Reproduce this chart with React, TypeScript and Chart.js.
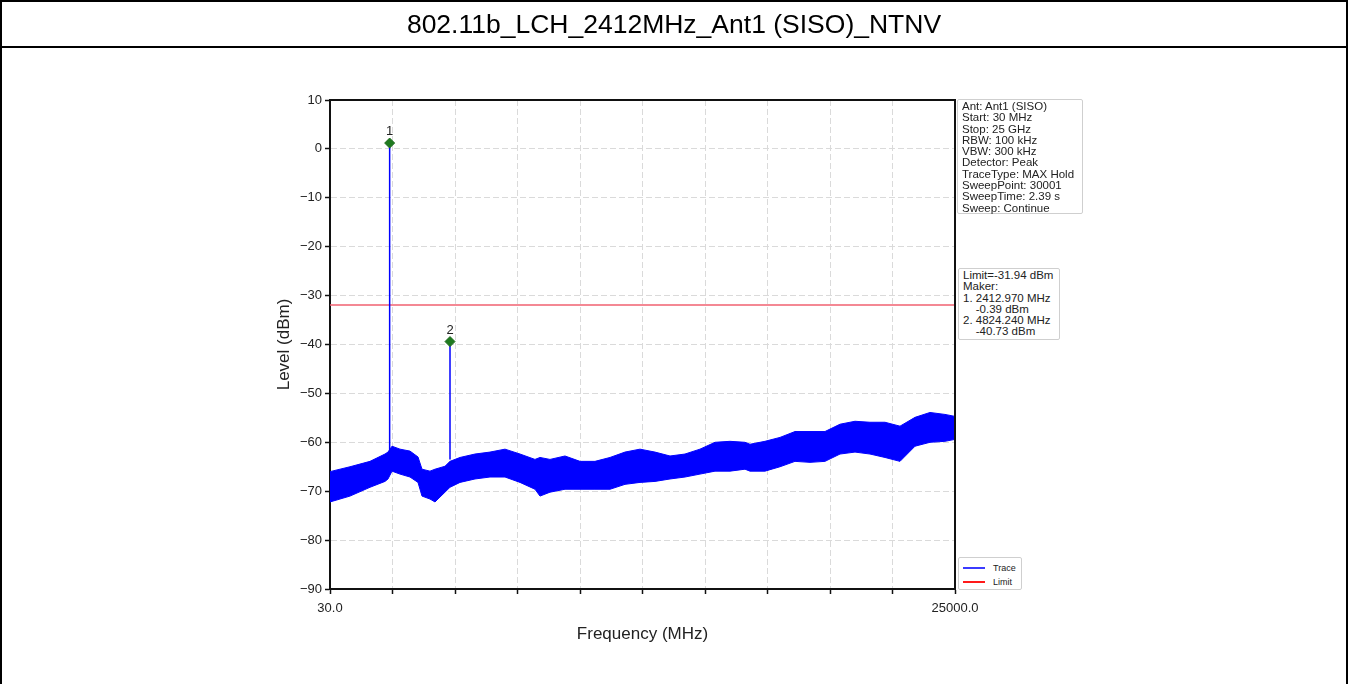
import React, { useEffect, useRef } from 'react';
import { Chart, registerables } from 'chart.js';

Chart.register(...registerables);

const TITLE = '802.11b_LCH_2412MHz_Ant1 (SISO)_NTNV';

// Noise band of the trace
const freqMHz = [30, 829, 1628, 2227, 2347, 2507, 2827, 3226, 3546, 3706, 4025, 4225, 4624, 4824, 5224, 5823, 6422, 7022, 7621, 8220, 8420, 8819, 9419, 10018, 10617, 11217, 11816, 12415, 13014, 13614, 14213, 14812, 15412, 16011, 16610, 16810, 17409, 18008, 18608, 19207, 19806, 20406, 21005, 21604, 22203, 22803, 23402, 24001, 24600, 25000];
const traceTop = [-66, -65, -63.9, -62.4, -62, -60.8, -61.4, -61.8, -63, -65.5, -65.9, -65.5, -64.9, -63.9, -63.1, -62.4, -62, -61.4, -62.4, -63.5, -63.1, -63.5, -62.8, -63.9, -63.9, -63.1, -62, -61.4, -62, -62.8, -62.4, -61.4, -60, -59.8, -60, -60.4, -59.8, -59, -57.8, -57.8, -57.8, -56.3, -55.7, -55.9, -55.9, -56.7, -54.9, -53.9, -54.3, -54.7];
const traceBottom = [-72.2, -71, -69.2, -68, -67.5, -65.9, -66.5, -67.1, -68.2, -71, -71.6, -72.2, -70.2, -69.2, -68.2, -67.5, -67.1, -67.1, -68.2, -69.6, -71, -70.2, -69.6, -69.6, -69.6, -69.6, -68.6, -68.2, -68, -67.5, -67.1, -66.5, -65.9, -65.9, -65.5, -65.9, -65.9, -65, -63.9, -64.1, -63.9, -62.4, -62, -62.4, -63.1, -63.9, -60.8, -60, -59.8, -59.4];

// Peaks and markers
const peakFreq = [2412.97, 4824.24];
const peakLevel = [1.2, -39.4];
const peakBase = [-62, -63.5];
const markerLabels = ['1', '2'];

const limitLevel = -31.94;
const xMin = 30;
const xMax = 25000;

const xTicks = [30, 2527, 5024, 7521, 10018, 12515, 15012, 17509, 20006, 22503, 25000];
const xTickLabels = ['30.0', '', '', '', '', '', '', '', '', '', '25000.0'];
const yTicks = [10, 0, -10, -20, -30, -40, -50, -60, -70, -80, -90];
const yTickLabels = ['10', '0', '\u221210', '\u221220', '\u221230', '\u221240', '\u221250', '\u221260', '\u221270', '\u221280', '\u221290'];

const infoLines = ['Ant: Ant1 (SISO)', 'Start: 30 MHz', 'Stop: 25 GHz', 'RBW: 100 kHz', 'VBW: 300 kHz', 'Detector: Peak', 'TraceType: MAX Hold', 'SweepPoint: 30001', 'SweepTime: 2.39 s', 'Sweep: Continue'];
const limitLines = ['Limit=-31.94 dBm', 'Maker:', '1. 2412.970 MHz', '    -0.39 dBm', '2. 4824.240 MHz', '    -40.73 dBm'];
const legendItems = [{ label: 'Trace', color: '#3b3bff' }, { label: 'Limit', color: '#ff1a1a' }];

const FONT = '"Liberation Sans", Arial, sans-serif';
const BLUE = '#0000ff';

const framePlugin = {
  id: 'frame',
  afterDatasetsDraw(chart: any) {
    const { ctx } = chart;
    ctx.save();
    const meta = chart.getDatasetMeta(0);
    ctx.fillStyle = '#222';
    ctx.font = `13px ${FONT}`;
    ctx.textAlign = 'center';
    ctx.textBaseline = 'bottom';
    meta.data.forEach((el: any, i: number) => {
      ctx.fillText(markerLabels[i], el.x, el.y - 5);
    });
    ctx.restore();
  },
  afterDraw(chart: any) {
    const { ctx, chartArea } = chart;
    ctx.save();
    ctx.strokeStyle = '#111';
    ctx.lineWidth = 2;
    ctx.beginPath();
    ctx.moveTo(chartArea.left, chartArea.top);
    ctx.lineTo(chartArea.right, chartArea.top);
    ctx.lineTo(chartArea.right, chartArea.bottom);
    ctx.stroke();
    ctx.restore();
  },
};

function ChartCanvas() {
  const ref = useRef<HTMLCanvasElement | null>(null);
  useEffect(() => {
    if (!ref.current) return;
    const topLine = freqMHz.map((f, i) => ({ x: f, y: traceTop[i] }));
    const bottomLine = freqMHz.map((f, i) => ({ x: f, y: traceBottom[i] }));
    const chart = new Chart(ref.current, {
      type: 'line',
      data: {
        datasets: [
          {
            label: 'Markers',
            data: peakFreq.map((f, i) => ({ x: f, y: peakLevel[i] })),
            showLine: false,
            pointStyle: 'rectRot',
            pointRadius: 5,
            pointBackgroundColor: '#1f7a1f',
            pointBorderColor: '#1f6a1f',
            pointBorderWidth: 1,
          } as any,
          {
            label: 'Peak1',
            data: [{ x: peakFreq[0], y: peakBase[0] }, { x: peakFreq[0], y: peakLevel[0] }],
            borderColor: BLUE,
            borderWidth: 1.5,
            pointRadius: 0,
          },
          {
            label: 'Peak2',
            data: [{ x: peakFreq[1], y: peakBase[1] }, { x: peakFreq[1], y: peakLevel[1] }],
            borderColor: BLUE,
            borderWidth: 1.5,
            pointRadius: 0,
          },
          {
            label: 'Trace',
            data: topLine,
            borderColor: BLUE,
            borderWidth: 1,
            pointRadius: 0,
            fill: false,
          },
          {
            label: 'TraceLow',
            data: bottomLine,
            borderColor: BLUE,
            borderWidth: 1,
            pointRadius: 0,
            backgroundColor: BLUE,
            fill: '-1',
          },
          {
            label: 'Limit',
            data: [{ x: xMin, y: limitLevel }, { x: xMax, y: limitLevel }],
            borderColor: '#f06070',
            borderWidth: 1.5,
            pointRadius: 0,
          },
        ],
      },
      options: {
        animation: false,
        responsive: false,
        parsing: false as any,
        layout: { padding: { left: 270, right: 393, top: 52, bottom: 35 } },
        plugins: { legend: { display: false }, tooltip: { enabled: false } },
        scales: {
          x: {
            type: 'linear',
            min: xMin,
            max: xMax,
            afterBuildTicks: (axis: any) => {
              axis.ticks = xTicks.map((v) => ({ value: v }));
            },
            afterFit: (s: any) => {
              s.height = 60;
            },
            ticks: {
              autoSkip: false,
              maxRotation: 0,
              padding: 7,
              color: '#222',
              font: { family: FONT, size: 13 },
              callback: (_v: any, i: number) => xTickLabels[i],
            },
            grid: { color: '#dadada', tickColor: '#111', tickLength: 5, tickWidth: 1.5 },
            border: { color: '#111', width: 2, dash: [6, 3] },
            title: { display: true, text: 'Frequency (MHz)', color: '#222', font: { family: FONT, size: 17 }, padding: { top: 4, bottom: 4 } },
          },
          y: {
            type: 'linear',
            min: -90,
            max: 10,
            afterBuildTicks: (axis: any) => {
              axis.ticks = yTicks.map((v) => ({ value: v }));
            },
            afterFit: (s: any) => {
              s.width = 60;
            },
            ticks: {
              autoSkip: false,
              padding: 3,
              color: '#222',
              font: { family: FONT, size: 13 },
              callback: (_v: any, i: number) => yTickLabels[i],
            },
            grid: { color: '#dadada', tickColor: '#111', tickLength: 5, tickWidth: 1.5 },
            border: { color: '#111', width: 2, dash: [6, 3] },
            title: { display: true, text: 'Level (dBm)', color: '#222', font: { family: FONT, size: 17 }, padding: { top: 4, bottom: 4 } },
          },
        },
      },
      plugins: [framePlugin],
    });
    return () => chart.destroy();
  }, []);
  return <canvas ref={ref} width={1348} height={636} style={{ position: 'absolute', left: 0, top: 48, width: 1348, height: 636 }} />;
}

const boxStyle: React.CSSProperties = {
  position: 'absolute',
  background: '#fff',
  border: '1px solid #cfcfcf',
  borderRadius: 2,
  fontFamily: FONT,
  fontSize: 11.5,
  lineHeight: '11.3px',
  color: '#222',
  whiteSpace: 'pre',
  boxSizing: 'border-box',
};

export default function App() {
  return (
    <div style={{ position: 'relative', width: 1348, height: 684, background: '#fff', overflow: 'hidden' }}>
      <style>{`body{margin:0;background:#fff}`}</style>
      <ChartCanvas />
      <div style={{ position: 'absolute', left: 0, top: 0, width: 1348, height: 684, boxSizing: 'border-box', borderTop: '2px solid #000', borderLeft: '2px solid #000', borderRight: '2px solid #000', pointerEvents: 'none' }} />
      <div style={{ position: 'absolute', left: 0, top: 0, width: 1348, height: 48, paddingTop: 3, boxSizing: 'border-box', borderBottom: '2px solid #000', display: 'flex', alignItems: 'center', justifyContent: 'center', fontFamily: FONT, fontSize: 26.5, color: '#000' }}>
        {TITLE}
      </div>
      <div style={{ ...boxStyle, left: 957, top: 99, width: 126, height: 115, padding: '1px 4px' }}>
        {infoLines.map((t, i) => (
          <div key={i}>{t}</div>
        ))}
      </div>
      <div style={{ ...boxStyle, left: 958, top: 268, width: 102, height: 72, padding: '1px 4px' }}>
        {limitLines.map((t, i) => (
          <div key={i}>{t}</div>
        ))}
      </div>
      <div style={{ ...boxStyle, left: 958, top: 557, width: 64, height: 33, padding: '3px 4px', fontSize: 9, lineHeight: '14px' }}>
        {legendItems.map((it, i) => (
          <div key={i} style={{ display: 'flex', alignItems: 'center' }}>
            <span style={{ display: 'inline-block', width: 22, height: 2, background: it.color, marginRight: 8 }} />
            <span>{it.label}</span>
          </div>
        ))}
      </div>
    </div>
  );
}
